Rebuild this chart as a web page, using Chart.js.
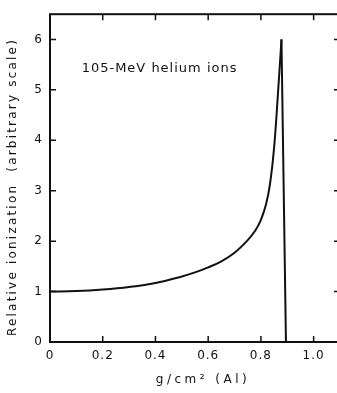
<!DOCTYPE html>
<html>
<head>
<meta charset="utf-8">
<script src="https://cdn.jsdelivr.net/npm/chart.js@4/dist/chart.umd.min.js"></script>
<style>
  html, body { margin: 0; padding: 0; background: #fff; overflow: hidden; }
  #wrap { position: relative; width: 340px; height: 393px; }
</style>
</head>
<body>
<div id="wrap"><canvas id="braggChart"></canvas></div>
<script>
// Bragg curve: depth in aluminium (g/cm2) vs relative ionization
const depth      = [0, 0.1, 0.2, 0.3, 0.4, 0.5, 0.55, 0.6, 0.65, 0.7, 0.75, 0.78, 0.8, 0.82, 0.835, 0.85, 0.865, 0.878, 0.895];
const ionization = [1.0, 1.01, 1.04, 1.09, 1.17, 1.3, 1.38, 1.48, 1.6, 1.77, 2.02, 2.22, 2.42, 2.74, 3.15, 3.85, 4.95, 6.0, 0];
const peakIndex = 17; // the drop after the peak is drawn straight
const xTicks = [0, 0.2, 0.4, 0.6, 0.8, 1.0];
const yTicks = [0, 1, 2, 3, 4, 5, 6];
const label = '105-MeV helium ions';
const xTitle = 'g/cm² (Al)';
const yTitle = 'Relative ionization  (arbitrary scale)';

const font = 'DejaVu Sans';
const ink = '#111';

const points = depth.map((d, i) => ({ x: d, y: ionization[i] }));

// frame lines, inward tick marks, axis titles and the in-plot label
const framePlugin = {
    id: 'frame',
    beforeDraw(chart) {
        chart.ctx.letterSpacing = '1px';
    },
    afterDraw(chart) {
        const ctx = chart.ctx;
        const a = chart.chartArea;
        const x = chart.scales.x;
        const y = chart.scales.y;
        ctx.save();
        ctx.strokeStyle = ink;
        ctx.lineWidth = 2;
        ctx.strokeRect(a.left, a.top, a.right - a.left, a.bottom - a.top);

        ctx.lineWidth = 1.5;
        ctx.beginPath();
        xTicks.forEach(v => {
            if (v === 0) return;
            const px = x.getPixelForValue(v);
            ctx.moveTo(px, a.bottom); ctx.lineTo(px, a.bottom - 6);
            ctx.moveTo(px, a.top); ctx.lineTo(px, a.top + 6);
        });
        yTicks.forEach(v => {
            if (v === 0) return;
            const py = y.getPixelForValue(v);
            ctx.moveTo(a.left, py); ctx.lineTo(a.left + 6, py);
            ctx.moveTo(a.right, py); ctx.lineTo(a.right - 6, py);
        });
        ctx.stroke();

        ctx.fillStyle = ink;
        ctx.textBaseline = 'middle';

        ctx.font = '13px "' + font + '"';
        ctx.letterSpacing = '1px';
        ctx.textAlign = 'left';
        ctx.fillText(label, x.getPixelForValue(0.12), y.getPixelForValue(5.42));

        ctx.font = '12px "' + font + '"';
        ctx.letterSpacing = '3.5px';
        ctx.textAlign = 'center';
        ctx.fillText(xTitle, 203, 380);

        ctx.letterSpacing = '2.2px';
        ctx.translate(13, 187);
        ctx.rotate(-Math.PI / 2);
        ctx.fillText(yTitle, 0, 0);
        ctx.restore();
        ctx.letterSpacing = '0px';
    }
};

const ctx = document.getElementById('braggChart').getContext('2d');
new Chart(ctx, {
    type: 'line',
    data: {
        datasets: [{
            data: points.slice(0, peakIndex + 1),
            borderColor: ink,
            borderWidth: 2,
            pointRadius: 0,
            tension: 0.4,
            fill: false
        }, {
            data: points.slice(peakIndex),
            borderColor: ink,
            borderWidth: 2,
            pointRadius: 0,
            tension: 0,
            fill: false
        }]
    },
    options: {
        responsive: true,
        maintainAspectRatio: false,
        animation: false,
        layout: { padding: { top: 6, right: 0, bottom: 0, left: 0 } },
        plugins: {
            legend: { display: false },
            tooltip: { enabled: false }
        },
        scales: {
            x: {
                type: 'linear',
                min: 0,
                max: 1.1,
                afterBuildTicks: s => { s.ticks = xTicks.map(v => ({ value: v })); },
                afterFit: s => { s.height = 51; },
                grid: { display: false, drawTicks: false },
                border: { display: false },
                ticks: {
                    color: ink,
                    padding: 7,
                    font: { family: font, size: 12 },
                    callback: v => v === 0 ? '0' : v.toFixed(1)
                }
            },
            y: {
                min: 0,
                max: 6.5,
                afterBuildTicks: s => { s.ticks = yTicks.map(v => ({ value: v })); },
                afterFit: s => { s.width = 50; },
                grid: { display: false, drawTicks: false },
                border: { display: false },
                ticks: {
                    color: ink,
                    padding: 7,
                    font: { family: font, size: 12 }
                }
            }
        }
    },
    plugins: [framePlugin]
});
</script>
</body>
</html>
